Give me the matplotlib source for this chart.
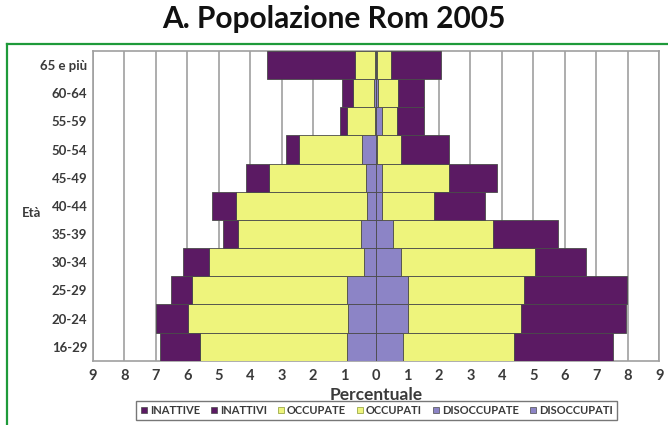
"""Popolazione Rom 2005 - piramide per condizione."""
import matplotlib

matplotlib.use("Agg")
import matplotlib.pyplot as plt
from matplotlib.lines import Line2D
import numpy as np

plt.rcParams["font.family"] = ["Lato", "DejaVu Sans"]

ages = ["65 e più", "60-64", "55-59", "50-54", "45-49", "40-44",
        "35-39", "30-34", "25-29", "20-24", "16-29"]

# donne (lato sinistro), percentuali
disoccupate = [0.02, 0.07, 0.02, 0.45, 0.33, 0.30, 0.48, 0.37, 0.93, 0.88, 0.93]
occupate = [0.65, 0.65, 0.89, 1.99, 3.07, 4.15, 3.91, 4.95, 4.92, 5.11, 4.66]
inattive = [2.79, 0.35, 0.23, 0.43, 0.74, 0.75, 0.48, 0.82, 0.68, 0.99, 1.28]

# uomini (lato destro)
disoccupati = [0.02, 0.07, 0.18, 0.02, 0.18, 0.20, 0.53, 0.79, 1.00, 1.00, 0.87]
occupati = [0.46, 0.63, 0.48, 0.78, 2.14, 1.65, 3.20, 4.26, 3.71, 3.60, 3.51]
inattivi = [1.58, 0.82, 0.86, 1.52, 1.51, 1.61, 2.06, 1.61, 3.25, 3.33, 3.16]

tick_vals = list(range(-9, 10))

C_INATT = "#5b1a63"
C_OCC = "#eef47c"
C_DIS = "#8c84c6"
EDGE = "#4a4a4a"
TXT = "#3a3a3a"

fig = plt.figure(figsize=(6.68, 4.25), dpi=100)
ax = fig.add_axes([0.139, 0.151, 0.848, 0.729])

y = np.arange(len(ages))[::-1]
h = 1.0
kw = dict(height=h, edgecolor=EDGE, linewidth=0.6, zorder=3)

dF = -np.array(disoccupate)
oF = -np.array(occupate)
iF = -np.array(inattive)
ax.barh(y, dF, color=C_DIS, **kw)
ax.barh(y, oF, left=dF, color=C_OCC, **kw)
ax.barh(y, iF, left=dF + oF, color=C_INATT, **kw)

dM = np.array(disoccupati)
oM = np.array(occupati)
iM = np.array(inattivi)
ax.barh(y, dM, color=C_DIS, **kw)
ax.barh(y, oM, left=dM, color=C_OCC, **kw)
ax.barh(y, iM, left=dM + oM, color=C_INATT, **kw)

ax.set_xlim(-9, 9)
ax.set_ylim(-0.5, len(ages) - 0.5)
ax.set_xticks(tick_vals)
ax.set_xticklabels([str(abs(v)) for v in tick_vals], fontsize=10.5,
                   fontweight="bold", color=TXT)
ax.set_yticks(y)
ax.set_yticklabels(ages, fontsize=9.5, fontweight="bold", color=TXT)
ax.tick_params(axis="y", length=0, pad=4)
ax.tick_params(axis="x", length=0, pad=6)
ax.grid(axis="x", color="#a0a0a0", linewidth=1.2, zorder=0)
ax.set_axisbelow(True)
for s in ax.spines.values():
    s.set_color("#a0a0a0")
    s.set_linewidth(1.2)

ax.set_xlabel("Percentuale", fontsize=12.5, fontweight="bold", color=TXT,
              labelpad=3)
fig.text(0.033, 0.499, "Età", fontsize=9.5, fontweight="bold", color=TXT,
         ha="left", va="center")

fig.text(0.5, 0.955, "A. Popolazione Rom 2005", fontsize=21.5,
         fontweight="bold", ha="center", va="center", color="#111111")

# cornice verde
fig.add_artist(Line2D([0.011, 1.0], [0.897, 0.897], color="#1e9a3a",
                      linewidth=1.6, transform=fig.transFigure))
fig.add_artist(Line2D([0.011, 0.011], [0.0, 0.897], color="#1e9a3a",
                      linewidth=1.6, transform=fig.transFigure))

handles = [
    plt.Rectangle((0, 0), 1, 1, fc=C_INATT, ec=EDGE, lw=0.5),
    plt.Rectangle((0, 0), 1, 1, fc=C_INATT, ec=EDGE, lw=0.5),
    plt.Rectangle((0, 0), 1, 1, fc=C_OCC, ec="#8a9a30", lw=0.5),
    plt.Rectangle((0, 0), 1, 1, fc=C_OCC, ec="#8a9a30", lw=0.5),
    plt.Rectangle((0, 0), 1, 1, fc=C_DIS, ec=EDGE, lw=0.5),
    plt.Rectangle((0, 0), 1, 1, fc=C_DIS, ec=EDGE, lw=0.5),
]
labels = ["INATTIVE", "INATTIVI", "OCCUPATE", "OCCUPATI",
          "DISOCCUPATE", "DISOCCUPATI"]
leg = fig.legend(handles, labels, loc="center", bbox_to_anchor=(0.564, 0.034),
                 ncol=6, frameon=True, fancybox=False,
                 handlelength=0.55, handleheight=0.55, handletextpad=0.25,
                 columnspacing=1.0, borderpad=0.4, edgecolor="#555555",
                 prop=dict(size=8, weight="bold"))
leg.get_frame().set_linewidth(1.0)
for t in leg.get_texts():
    t.set_color(TXT)

fig.savefig("out.png", dpi=100)
